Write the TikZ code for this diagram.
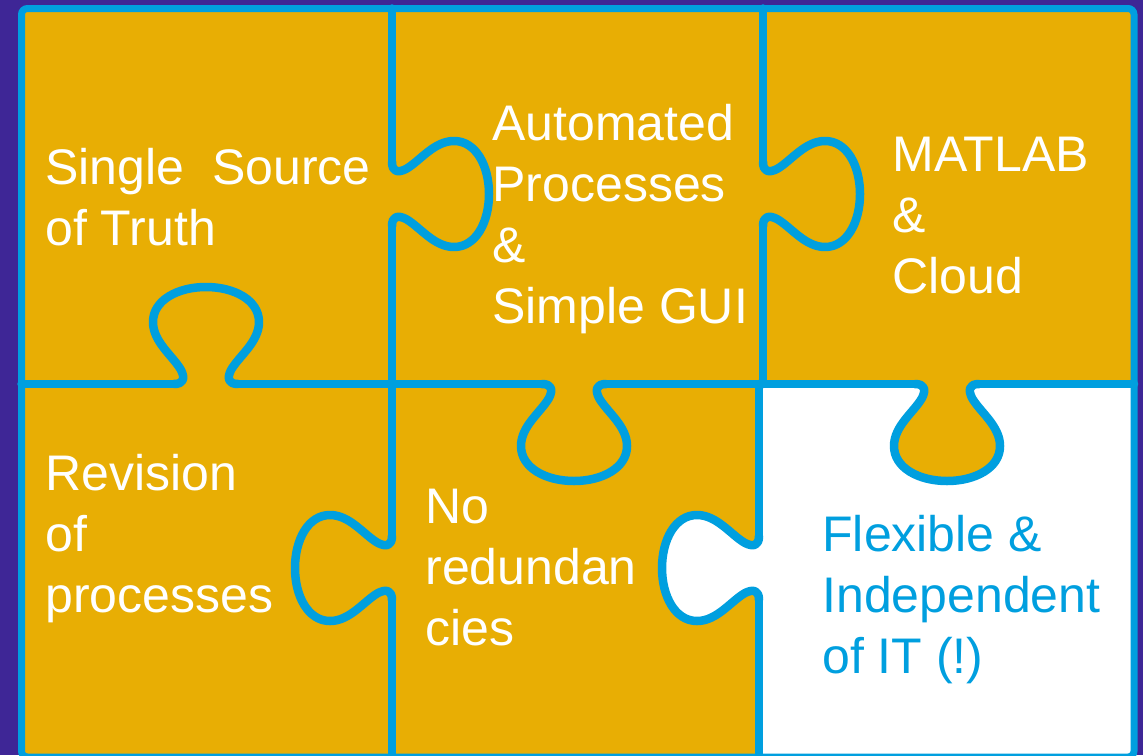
\documentclass[tikz,border=0pt]{standalone}
\usepackage{fontspec}
\setmainfont{Liberation Sans}
\definecolor{bgpurple}{HTML}{3E2696}
\definecolor{gold}{HTML}{E8AE04}
\definecolor{pblue}{HTML}{009FDF}
\newcommand\knobpath{(-32,0) .. controls (-22,0) and (-21,6) .. (-25,14)
  .. controls (-33,28) and (-53,42) .. (-53,62)
  .. controls (-53,84) and (-28,97) .. (0,97)
  .. controls (28,97) and (53,84) .. (53,62)
  .. controls (53,42) and (33,28) .. (25,14)
  .. controls (21,6) and (22,0) .. (32,0)}
\begin{document}
\begin{tikzpicture}[x=0.5pt,y=-0.5pt,
  inner/.style={draw=pblue,line width=4.25pt,line cap=round,line join=round},
  outer/.style={draw=pblue,line width=3.5pt,rounded corners=3pt},
  txt/.style={anchor=base west,inner sep=0pt,align=left,text=white,font=\fontsize{25}{30.5}\selectfont}]
\useasboundingbox (0,0) rectangle (1143,755);
\fill[bgpurple] (0,0) rectangle (1143,755);
\fill[gold] (21.5,8.5) rectangle (1134,757);
\fill[white] (759,384) rectangle (1134,757);
\begin{scope}[shift={(759,568)},rotate=-90] \fill[white] \knobpath -- cycle; \end{scope}
\begin{scope}[shift={(947,384)}] \fill[gold] \knobpath -- cycle; \end{scope}
% straight divider segments
\draw[inner] (21.5,384) -- (174,384) (238,384) -- (542,384) (606,384) -- (915,384) (979,384) -- (1134,384);
\draw[inner] (392,8.5) -- (392,162) (392,226) -- (392,536) (392,600) -- (392,757);
\draw[inner] (763,8.5) -- (763,162) (763,226) -- (763,384);
\draw[inner] (759,384) -- (759,536) (759,600) -- (759,757);
% knobs
\foreach \p/\r in {{392,194}/90, {763,194}/90, {206,384}/180, {574,384}/0, {947,384}/0, {392,568}/-90, {759,568}/-90}{
  \begin{scope}[shift={(\p)},rotate=\r] \draw[inner] \knobpath; \end{scope}
}
\draw[outer] (21.5,8.5) rectangle (1134,757);
% texts (anchored at the baseline of the last line)
\node[txt] (t1) at (45,245) {Single~~Source\\of Truth};
\node[txt] (t2) at (492,323) {Automated\\Processes\\\&\\Simple GUI};
\node[txt] (t3) at (892,293) {MATLAB\\\&\\Cloud};
\node[txt] (t4) at (45,612) {Revision\\of\\processes};
\node[txt] (t5) at (425,645) {No\\redundan\\cies};
\node[txt,text=pblue] (t6) at (822,673) {Flexible \&\\Independent\\of IT (!)};
\end{tikzpicture}
\end{document}
